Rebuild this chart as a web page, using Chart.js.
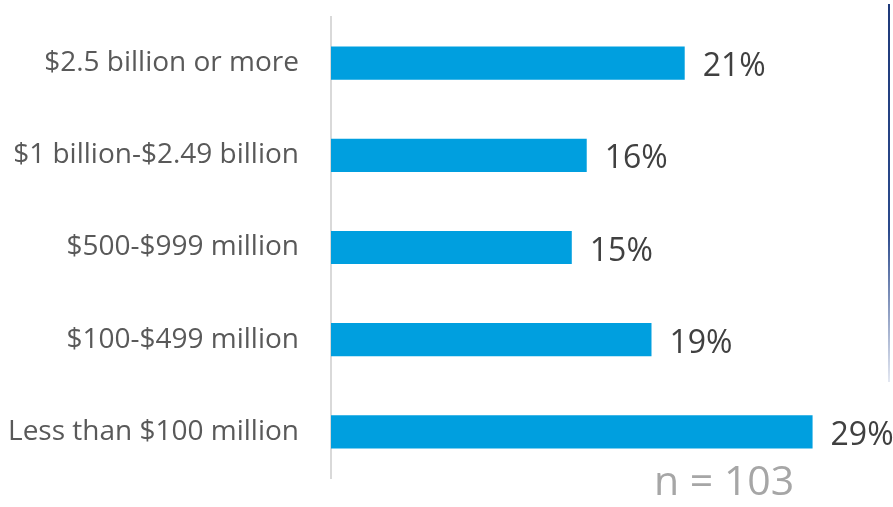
<!DOCTYPE html>
<html>
<head>
<meta charset="utf-8">
<script src="https://cdn.jsdelivr.net/npm/chart.js@4"></script>
<style>
    html, body { margin: 0; padding: 0; background: #fff; }
    #wrap { position: relative; width: 893px; height: 507px; }
    #sizeChart { position: absolute; left: 0; top: 0; }
    .sample-note {
        position: absolute; left: 654px; top: 459px;
        font-family: 'Open Sans', sans-serif; font-size: 41px; color: #a6a6a6;
        line-height: 1;
    }
    .edge-line {
        position: absolute; left: 888px; top: 4px; width: 2px; height: 378px;
        background: linear-gradient(#1f3a7a, #2b4a8c 60%, rgba(120,140,190,0.2));
    }
</style>
</head>
<body>
<div id="wrap">
    <canvas id="sizeChart" width="893" height="507"></canvas>
    <div class="edge-line"></div>
    <div class="sample-note">n = 103</div>
</div>
<script>
const revenueBands = [
    '$2.5 billion or more',
    '$1 billion-$2.49 billion',
    '$500-$999 million',
    '$100-$499 million',
    'Less than $100 million'
];
// bar lengths as measured, and the rounded labels printed next to them
const sharePct = [21.3, 15.4, 14.5, 19.3, 29.0];
const shareLabels = ['21%', '16%', '15%', '19%', '29%'];

// percent labels at the end of each bar
const valueLabels = {
    id: 'valueLabels',
    afterDatasetsDraw(chart) {
        const ctx = chart.ctx;
        const meta = chart.getDatasetMeta(0);
        ctx.save();
        ctx.font = '32px "Open Sans", sans-serif';
        ctx.fillStyle = '#404040';
        ctx.textBaseline = 'middle';
        ctx.textAlign = 'left';
        meta.data.forEach((bar, i) => {
            ctx.fillText(shareLabels[i], bar.x + 18, bar.y + 4);
        });
        ctx.restore();
    }
};

new Chart(document.getElementById('sizeChart'), {
    type: 'bar',
    data: {
        labels: revenueBands,
        datasets: [{
            data: sharePct,
            backgroundColor: '#009fdf',
            borderWidth: 0,
            barPercentage: 0.36,
            categoryPercentage: 1
        }]
    },
    options: {
        indexAxis: 'y',
        responsive: false,
        animation: false,
        layout: { padding: { top: 17, bottom: 29, right: 14, left: 0 } },
        plugins: { legend: { display: false }, tooltip: { enabled: false } },
        scales: {
            x: { display: false, min: 0, max: 33 },
            y: {
                afterFit(scale) {
                    scale.width = 331;
                    scale.paddingTop = 0;
                    scale.paddingBottom = 0;
                },
                border: { display: true, color: '#d9d9d9', width: 2 },
                grid: { display: false, drawTicks: false },
                ticks: {
                    padding: 32,
                    color: '#595959',
                    font: { family: "'Open Sans', sans-serif", size: 28 }
                }
            }
        }
    },
    plugins: [valueLabels]
});
</script>
</body>
</html>
